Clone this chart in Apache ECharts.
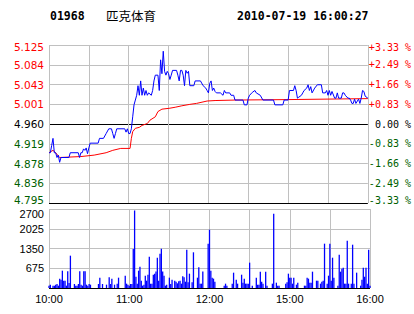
<!DOCTYPE html>
<html><head><meta charset="utf-8">
<script src="https://cdn.jsdelivr.net/npm/echarts@6/dist/echarts.min.js"></script>
<style>html,body{margin:0;padding:0;background:#fff}#c{width:414px;height:314px}</style>
</head><body><div id="c"></div>
<script>
const stockCode = '01968';
const stockName = '匹克体育';
const timestamp = '2010-07-19 16:00:27';
const prevClose = 4.96;
const priceStep = 0.04125;
const priceTickLabels = ['4.795','4.836','4.878','4.919','4.960','5.001','5.043','5.084','5.125'];
const pctTickLabels = ['-3.33 %','-2.49 %','-1.66 %','-0.83 %','\u00a00.00 %','+0.83 %','+1.66 %','+2.49 %','+3.33 %'];
const timeTickLabels = ['10:00','','11:00','','12:00','','15:00','','16:00'];
const volTickLabels = ['', '675', '1350', '2025', '2700'];

const priceMinutes = [0,1,2,3,4,5,6,7,8,9,15,16,22,23,24,25,26,27,28,29,30,31,37,38,41,42,43,45,47,48,49,50,51,57,58,59,60,61,62,63,64,65,66,67,68,69,70,71,72,73,74,75,77,78,79,80,82,83,84,85,86,87,88,89,90,91,92,93,96,97,98,99,100,101,102,103,104,105,106,109,110,114,116,118,119,120,121,122,123,124,125,126,129,131,132,133,136,137,139,140,146,147,149,150,151,153,155,156,159,161,169,170,176,177,180,181,184,185,186,187,188,190,191,192,194,195,196,197,198,200,202,205,206,208,209,210,211,212,213,215,216,217,218,220,221,222,223,225,226,227,228,229,230,231,233,234,235,236,237,238,240];
const priceValues = [4.90,4.90,4.915,4.93,4.90,4.90,4.89,4.895,4.88,4.89,4.89,4.90,4.90,4.89,4.90,4.90,4.908,4.905,4.91,4.898,4.91,4.92,4.92,4.93,4.93,4.935,4.94,4.95,4.95,4.94,4.93,4.94,4.95,4.95,4.943,4.95,4.94,4.94,4.95,4.975,5.00,5.01,5.02,5.04,5.02,5.05,5.02,5.035,5.02,5.03,5.02,5.025,5.02,5.03,5.05,5.062,5.062,5.03,5.094,5.065,5.112,5.07,5.062,5.07,5.065,5.053,5.062,5.072,5.072,5.062,5.05,5.072,5.072,5.062,5.04,5.072,5.066,5.07,5.04,5.04,5.05,5.05,5.04,5.035,5.03,5.025,5.045,5.05,5.03,5.035,5.028,5.025,5.025,5.02,5.03,5.025,5.025,5.02,5.02,5.01,5.01,5.00,5.00,5.014,5.02,5.026,5.03,5.025,5.02,5.01,5.01,5.00,5.00,5.01,5.01,5.03,5.03,5.04,5.03,5.014,5.016,5.02,5.025,5.03,5.035,5.042,5.03,5.038,5.025,5.035,5.042,5.042,5.025,5.025,5.03,5.02,5.03,5.02,5.028,5.014,5.014,5.025,5.014,5.014,5.025,5.025,5.02,5.014,5.014,5.01,5.003,5.003,5.012,5.003,5.012,5.003,5.014,5.03,5.028,5.018,5.014];

const avgMinutes = [0,3,5,8,24,34,43,48,54,61,62,63,65,68,70,74,76,80,82,85,91,95,100,106,111,119,125,140,180,210,240];
const avgValues = [4.90,4.905,4.90,4.89,4.892,4.895,4.90,4.905,4.909,4.909,4.93,4.944,4.951,4.953,4.957,4.961,4.968,4.975,4.986,4.991,4.993,4.995,4.998,5.001,5.003,5.008,5.009,5.010,5.011,5.012,5.013];

const volMinutes = [0,1,3,4,5,6,7,8,9,10,11,12,13,14,15,16,19,20,21,22,23,24,25,26,27,28,29,30,31,37,38,40,43,45,46,47,49,51,52,57,58,59,60,61,62,63,64,65,66,67,68,69,70,71,72,73,74,75,76,77,78,79,80,81,82,83,84,85,86,87,88,90,91,92,94,95,96,97,98,99,100,101,102,103,104,105,107,108,111,112,113,114,115,119,120,121,122,123,124,131,132,133,137,138,140,141,144,145,146,147,148,149,150,152,155,156,157,158,159,160,162,163,167,168,170,171,172,177,178,179,180,181,182,183,185,186,191,192,193,194,195,196,197,200,201,203,204,205,206,208,209,210,211,212,213,216,217,218,219,220,221,222,223,224,226,227,228,230,233,234,235,236,237,238,239,240];
const volValues = [80,114,80,80,114,137,80,320,285,592,250,250,80,570,170,1105,137,80,80,137,570,114,80,570,570,114,80,137,114,137,353,137,114,364,137,319,114,148,353,421,148,114,80,137,137,1333,2650,387,148,592,729,250,80,114,421,250,455,1070,148,148,455,490,560,1036,250,1170,1345,560,420,80,114,353,137,285,250,216,160,228,250,148,400,364,216,1310,194,490,194,1220,353,705,148,148,560,1515,1993,592,353,319,216,80,148,80,148,524,285,148,455,182,319,148,148,148,866,80,353,114,114,558,216,148,558,80,148,2540,182,80,80,148,194,490,353,353,148,353,114,182,80,80,353,319,182,182,558,250,250,148,216,250,1515,148,421,1515,250,1036,353,80,1140,558,660,695,148,148,1617,148,148,1480,148,524,80,285,695,387,695,148,1310,80];

const GRAY = '#c0c0c0';
const RED = '#ff0000';
const GREEN = '#005f00';
const toUnit = p => (p - prevClose) / priceStep;
const sideColor = (i) => i < 4 ? GREEN : (i === 4 ? '#000000' : RED);
const edgeLabel = (i, text) => i === 0 ? '{lo|' + text + '}' : (i === 8 ? '{hi|' + text + '}' : text);

const chart = echarts.init(document.getElementById('c'), null, {renderer: 'svg'});
chart.setOption({
  animation: false,
  backgroundColor: '#ffffff',
  graphic: [
    {type: 'text', left: 50, top: 10, style: {text: stockCode, font: 'bold 11.5px "DejaVu Sans Mono"', fill: '#000'}},
    {type: 'text', left: 106, top: 9, style: {text: stockName, font: '12.5px "Noto Sans CJK SC"', fill: '#000'}},
    {type: 'text', left: 237, top: 10, style: {text: timestamp, font: 'bold 11.5px "DejaVu Sans Mono"', fill: '#000'}}
  ],
  grid: [
    {left: 49, right: 44, top: 45, height: 158},
    {left: 49, right: 44, top: 209, height: 79}
  ],
  xAxis: [
    {type: 'value', gridIndex: 0, min: 0, max: 240, interval: 30,
     axisLine: {show: false}, axisTick: {show: false}, axisLabel: {show: false},
     splitLine: {show: true, lineStyle: {color: GRAY, width: 1}}},
    {type: 'value', gridIndex: 1, min: 0, max: 240, interval: 30,
     axisLine: {show: false}, axisTick: {show: false},
     axisLabel: {show: true, margin: 5, color: '#000', fontFamily: 'Liberation Sans', fontSize: 11,
       formatter: v => timeTickLabels[Math.round(v / 30)] || ''},
     splitLine: {show: true, lineStyle: {color: GRAY, width: 1}}}
  ],
  yAxis: [
    {type: 'value', gridIndex: 0, min: -4, max: 4, interval: 1, position: 'left',
     axisLine: {show: false}, axisTick: {show: false},
     axisLabel: {margin: 5, fontFamily: 'DejaVu Sans', fontSize: 10.5,
       formatter: v => edgeLabel(Math.round(v) + 4, priceTickLabels[Math.round(v) + 4]),
       color: (v) => sideColor(Math.round(Number(v)) + 4),
       rich: {
         lo: {padding: [0, 0, 6, 0], fontFamily: 'DejaVu Sans', fontSize: 10.5, color: GREEN},
         hi: {padding: [4, 0, 0, 0], fontFamily: 'DejaVu Sans', fontSize: 10.5, color: RED}
       }},
     splitLine: {show: true, lineStyle: {width: 1, color: ['#000000', GRAY, GRAY, GRAY, '#000000', GRAY, GRAY, GRAY, GRAY]}}},
    {type: 'value', gridIndex: 0, min: -4, max: 4, interval: 1, position: 'right',
     axisLine: {show: false}, axisTick: {show: false},
     axisLabel: {margin: 1, fontFamily: 'DejaVu Sans Mono', fontSize: 10,
       formatter: v => edgeLabel(Math.round(v) + 4, pctTickLabels[Math.round(v) + 4]),
       color: (v) => sideColor(Math.round(Number(v)) + 4),
       rich: {
         lo: {padding: [0, 0, 6, 0], fontFamily: 'DejaVu Sans Mono', fontSize: 10, color: GREEN},
         hi: {padding: [4, 0, 0, 0], fontFamily: 'DejaVu Sans Mono', fontSize: 10, color: RED}
       }},
     splitLine: {show: false}},
    {type: 'value', gridIndex: 1, min: 0, max: 2700, interval: 675,
     axisLine: {show: false}, axisTick: {show: false},
     axisLabel: {margin: 5, color: '#000', fontFamily: 'Liberation Sans', fontSize: 11,
       formatter: v => v >= 2700 ? '{t|' + volTickLabels[4] + '}' : volTickLabels[Math.round(v / 675)],
       rich: {t: {padding: [9, 0, 0, 0], fontFamily: 'Liberation Sans', fontSize: 11, color: '#000'}}},
     splitLine: {show: true, lineStyle: {width: 1, color: ['#000000', GRAY, GRAY, GRAY, GRAY]}}}
  ],
  series: [
    {type: 'line', xAxisIndex: 0, yAxisIndex: 0, showSymbol: false, symbol: 'none',
     lineStyle: {color: RED, width: 1}, itemStyle: {color: RED},
     data: avgMinutes.map((m, i) => [m, toUnit(avgValues[i])])},
    {type: 'line', xAxisIndex: 0, yAxisIndex: 0, showSymbol: false, symbol: 'none',
     lineStyle: {color: '#0000ff', width: 1}, itemStyle: {color: '#0000ff'},
     data: priceMinutes.map((m, i) => [m, toUnit(priceValues[i])])},
    {type: 'bar', xAxisIndex: 1, yAxisIndex: 2, barWidth: 1.3,
     itemStyle: {color: '#0000ff'},
     data: volMinutes.map((m, i) => [m, volValues[i]])}
  ]
});
</script>
</body></html>
